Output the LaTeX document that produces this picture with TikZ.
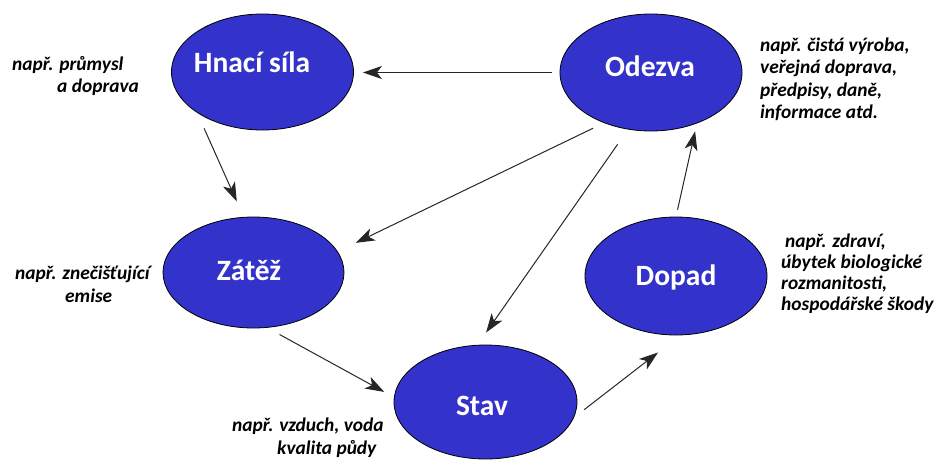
\documentclass[tikz,border=0pt]{standalone}
\usepackage{fontspec}
\setmainfont{Carlito}
\usetikzlibrary{shapes.geometric,arrows.meta}
\definecolor{blobblue}{RGB}{51,51,204}
\begin{document}
\begin{tikzpicture}[x=1pt,y=-1pt,
 blob/.style={ellipse,draw=black,line width=0.8pt,fill=blobblue,minimum width=182pt,inner sep=0pt},
 ntext/.style={anchor=base,text=white,font=\bfseries\fontsize{29.5}{31}\selectfont,inner sep=0pt},
 note/.style={font=\bfseries\itshape\fontsize{19.4}{22}\selectfont,inner sep=0pt,anchor=base west},
 arr/.style={-{Stealth[length=19pt,width=13pt,inset=5pt]},line width=1pt,black!85}]
\useasboundingbox (0,0) rectangle (934,459);

% ellipses
\node[blob,minimum height=116pt] (h) at (262.5,72) {};
\node[blob,minimum height=117pt] (o) at (651,72.5) {};
\node[blob,minimum height=111pt,minimum width=181pt] (z) at (253.5,272.5) {};
\node[blob,minimum height=118pt] (d) at (676,276) {};
\node[blob,minimum height=114pt,minimum width=183pt] (s) at (485.5,402) {};

% ellipse texts
\node[ntext] (ht) at (252,72) {Hnací síla};
\node[ntext] (ot) at (650,76) {Odezva};
\node[ntext] (zt) at (249,280) {Zátěž};
\node[ntext] (dt) at (676,285) {Dopad};
\node[ntext] (st) at (482,415) {Stav};

% notes
\node[note] (h1) at (12,70) {např. průmysl};
\node[note] (h2) at (57,92) {a doprava};

\node[note] (o1) at (760,51) {např. čistá výroba,};
\node[note] (o2) at (760,73.5) {veřejná doprava,};
\node[note] (o3) at (760,96) {předpisy, daně,};
\node[note] (o4) at (760,118.5) {informace atd.};

\node[note] (z1) at (15,279) {např. znečišťující};
\node[note] (z2) at (65,302) {emise};

\node[note] (d1) at (785,247) {např. zdraví,};
\node[note] (d2) at (781,268) {úbytek biologické};
\node[note] (d3) at (781,289) {rozmanitosti,};
\node[note] (d4) at (781,310) {hospodářské škody};

\node[note] (s1) at (232,431) {např. vzduch, voda};
\node[note] (s2) at (277,454) {kvalita půdy};

% connectors
\draw[arr, shorten <=8pt, shorten >=9pt] (o.west) -- (o.west -| h.east);
\draw[arr, shorten <=17pt, shorten >=17pt] (h.212) -- (z.100);
\draw[arr, shorten <=12pt, shorten >=20pt] (o.227) -- (z.14);
\draw[arr, shorten <=18pt, shorten >=15pt] (o.248) -- (s.98);
\draw[arr, shorten <=14pt, shorten >=11pt] (z.284) -- (s.177);
\draw[arr, shorten <=13pt, shorten >=28pt] (s.350) -- (d.274);
\draw[arr, shorten <=7pt, shorten >=8pt] (d.90) -- (o.312);
\end{tikzpicture}
\end{document}
